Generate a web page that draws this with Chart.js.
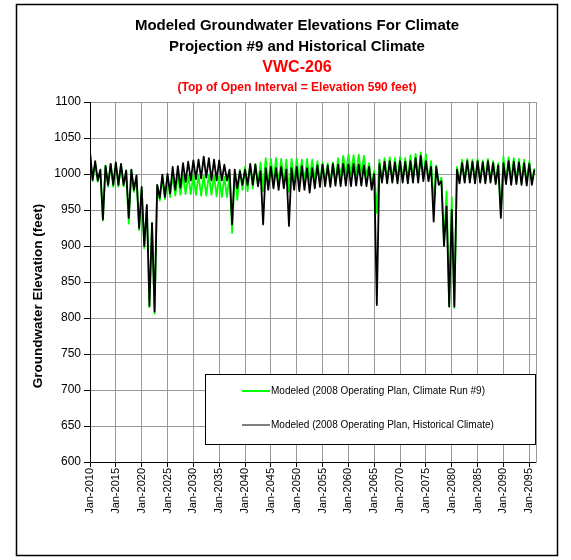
<!DOCTYPE html>
<html>
<head>
<meta charset="utf-8">
<script src="https://cdn.jsdelivr.net/npm/chart.js@4/dist/chart.umd.min.js"></script>
<style>
  html, body { margin: 0; padding: 0; background: #fff; }
  #wrap { position: relative; width: 571px; height: 560px; }
</style>
</head>
<body>
<div id="wrap"><canvas id="chart" width="571" height="560"></canvas></div>
<script>
// half-year samples, Jan and Jul of each year, starting Jan-2010
const startYear = 2010;
const stepYears = 0.5;

const seriesNames = [
  "Modeled (2008 Operating Plan, Climate Run #9)",
  "Modeled (2008 Operating Plan, Historical Climate)",
];

// Historical climate (black)
const historical = [
  1031, 992, 1018, 991, 1006, 937, 1011, 985, 1014, 985,
  1016, 985, 1014, 985, 1005, 939, 1006, 978, 998, 925,
  982, 900, 957, 817, 932, 809, 985, 967, 999, 968,
  1000, 973, 1010, 978, 1011, 981, 1015, 989, 1017, 991,
  1019, 993, 1020, 994, 1024, 995, 1022, 991, 1020, 991,
  1019, 991, 1013, 991, 1006, 930, 1006, 980, 1004, 985,
  1006, 985, 1014, 985, 1013, 983, 1004, 930, 1008, 978,
  1010, 980, 1008, 978, 1010, 980, 1006, 928, 1008, 978,
  1010, 976, 1011, 978, 1008, 974, 1008, 980, 1012, 982,
  1013, 983, 1012, 982, 1014, 984, 1013, 983, 1014, 984,
  1013, 983, 1014, 984, 1013, 984, 1012, 983, 1010, 978,
  1000, 818, 1014, 988, 1017, 987, 1018, 988, 1016, 987,
  1018, 988, 1017, 987, 1018, 988, 1022, 988, 1025, 990,
  1018, 990, 1010, 934, 1010, 985, 990, 900, 955, 816,
  950, 816, 1006, 987, 1015, 988, 1018, 988, 1017, 987,
  1018, 988, 1016, 987, 1018, 988, 1015, 986, 1012, 939,
  1015, 986, 1018, 985, 1017, 986, 1016, 985, 1015, 984,
  1014, 985, 1006,
];

// Climate run #9 (green)
const climateRun9 = [
  1028, 990, 1015, 989, 1005, 935, 1012, 982, 1014, 982,
  1015, 982, 1013, 983, 1004, 931, 1005, 975, 997, 922,
  980, 897, 955, 815, 930, 806, 983, 963, 995, 965,
  997, 968, 998, 970, 999, 971, 999, 972, 998, 972,
  999, 971, 998, 970, 998, 970, 999, 971, 998, 969,
  997, 968, 996, 968, 1000, 918, 1004, 964, 1006, 978,
  1010, 976, 1013, 980, 1014, 985, 1016, 976, 1022, 985,
  1021, 986, 1022, 985, 1021, 986, 1020, 975, 1021, 988,
  1021, 990, 1020, 989, 1021, 990, 1020, 991, 1018, 990,
  1016, 988, 1015, 987, 1016, 988, 1022, 995, 1025, 998,
  1027, 999, 1026, 998, 1027, 999, 1025, 997, 1015, 985,
  1005, 946, 1020, 990, 1022, 990, 1023, 991, 1022, 990,
  1024, 991, 1022, 990, 1026, 992, 1028, 993, 1030, 994,
  1028, 990, 1018, 960, 1012, 985, 995, 905, 976, 816,
  968, 814, 1010, 990, 1020, 991, 1021, 990, 1020, 991,
  1021, 990, 1019, 990, 1021, 991, 1018, 989, 1015, 945,
  1024, 990, 1023, 989, 1022, 990, 1021, 988, 1020, 989,
  1018, 990, 1008,
];

const tickYears = [2010, 2015, 2020, 2025, 2030, 2035, 2040, 2045, 2050,
  2055, 2060, 2065, 2070, 2075, 2080, 2085, 2090, 2095];
const tickLabels = ["Jan-2010", "Jan-2015", "Jan-2020", "Jan-2025", "Jan-2030",
  "Jan-2035", "Jan-2040", "Jan-2045", "Jan-2050", "Jan-2055", "Jan-2060",
  "Jan-2065", "Jan-2070", "Jan-2075", "Jan-2080", "Jan-2085", "Jan-2090", "Jan-2095"];

const titleLines = [
  "Modeled Groundwater Elevations For Climate",
  "Projection #9 and Historical Climate",
];
const wellName = "VWC-206";
const wellNote = "(Top of Open Interval = Elevation 590 feet)";
const yTitle = "Groundwater Elevation (feet)";

const FONT = '"Liberation Sans", Arial, sans-serif';

function toPoints(values) {
  return values.map((v, i) => ({ x: startYear + i * stepYears, y: v }));
}

const decorations = {
  id: "decorations",
  afterDraw(chart) {
    const ctx = chart.ctx;
    const area = chart.chartArea;
    ctx.save();

    // plot border
    ctx.strokeStyle = "#999";
    ctx.lineWidth = 1;
    ctx.strokeRect(Math.round(area.left) + 0.5, Math.round(area.top) + 0.5,
      Math.round(area.right - area.left), Math.round(area.bottom - area.top));
    ctx.strokeStyle = "#000";
    ctx.beginPath();
    ctx.moveTo(Math.round(area.left) + 0.5, area.top);
    ctx.lineTo(Math.round(area.left) + 0.5, Math.round(area.bottom) + 0.5);
    ctx.lineTo(area.right, Math.round(area.bottom) + 0.5);
    ctx.stroke();

    // titles
    ctx.textAlign = "center";
    ctx.textBaseline = "middle";
    ctx.fillStyle = "#000";
    ctx.font = "bold 15px " + FONT;
    ctx.fillText(titleLines[0], 297, 26);
    ctx.fillText(titleLines[1], 297, 47);
    ctx.fillStyle = "#ff0000";
    ctx.font = "bold 16px " + FONT;
    ctx.fillText(wellName, 297, 68);
    ctx.font = "bold 12px " + FONT;
    ctx.fillText(wellNote, 297, 88);

    // y axis title
    ctx.save();
    ctx.translate(38, 296);
    ctx.rotate(-Math.PI / 2);
    ctx.fillStyle = "#000";
    ctx.font = "bold 13.5px " + FONT;
    ctx.fillText(yTitle, 0, 0);
    ctx.restore();

    // legend box
    const lx = 205, ly = 374, lw = 330, lh = 70;
    ctx.fillStyle = "#fff";
    ctx.fillRect(lx, ly, lw, lh);
    ctx.strokeStyle = "#000";
    ctx.lineWidth = 1;
    ctx.strokeRect(lx + 0.5, ly + 0.5, lw, lh);
    const rows = [
      { y: 391, color: "#00ff00", width: 2, text: seriesNames[0] },
      { y: 425, color: "#000", width: 1, text: seriesNames[1] },
    ];
    ctx.textAlign = "left";
    ctx.font = "10px " + FONT;
    rows.forEach((r) => {
      ctx.strokeStyle = r.color;
      ctx.lineWidth = r.width;
      ctx.beginPath();
      ctx.moveTo(242, r.y);
      ctx.lineTo(270, r.y);
      ctx.stroke();
      ctx.fillStyle = "#000";
      ctx.fillText(r.text, 271, r.y);
    });

    // outer frame
    ctx.strokeStyle = "#000";
    ctx.lineWidth = 1.5;
    ctx.strokeRect(16.5, 4.5, 541, 551);
    ctx.restore();
  },
};

new Chart(document.getElementById("chart"), {
  type: "line",
  data: {
    datasets: [
      {
        label: seriesNames[1],
        data: toPoints(historical),
        borderColor: "#000",
        borderWidth: 1.8,
        pointRadius: 0,
        borderJoinStyle: "round",
        tension: 0,
      },
      {
        label: seriesNames[0],
        data: toPoints(climateRun9),
        borderColor: "#00ff00",
        borderWidth: 1.8,
        pointRadius: 0,
        borderJoinStyle: "round",
        tension: 0,
      },
    ],
  },
  options: {
    responsive: false,
    animation: false,
    layout: { padding: { top: 102, right: 35, left: 0, bottom: 0 } },
    plugins: {
      legend: { display: false },
      title: { display: false },
      tooltip: { enabled: false },
    },
    scales: {
      x: {
        type: "linear",
        min: 2010,
        max: 2096.3,
        afterBuildTicks: (axis) => {
          axis.ticks = tickYears.map((v) => ({ value: v }));
        },
        afterFit: (scale) => {
          scale.height = 98;
        },
        ticks: {
          autoSkip: false,
          minRotation: 90,
          maxRotation: 90,
          color: "#000",
          font: { family: FONT, size: 11 },
          padding: 1,
          callback: (v) => tickLabels[tickYears.indexOf(v)],
        },
        grid: { color: "#999", tickColor: "#000", tickLength: 5 },
        border: { color: "#000" },
      },
      y: {
        min: 600,
        max: 1100,
        afterFit: (scale) => {
          scale.width = 90;
        },
        ticks: {
          stepSize: 50,
          color: "#000",
          font: { family: FONT, size: 12 },
          padding: 3,
          callback: (v) => String(v),
        },
        grid: { color: "#999", tickColor: "#000", tickLength: 6 },
        border: { color: "#000" },
      },
    },
  },
  plugins: [decorations],
});
</script>
</body>
</html>
